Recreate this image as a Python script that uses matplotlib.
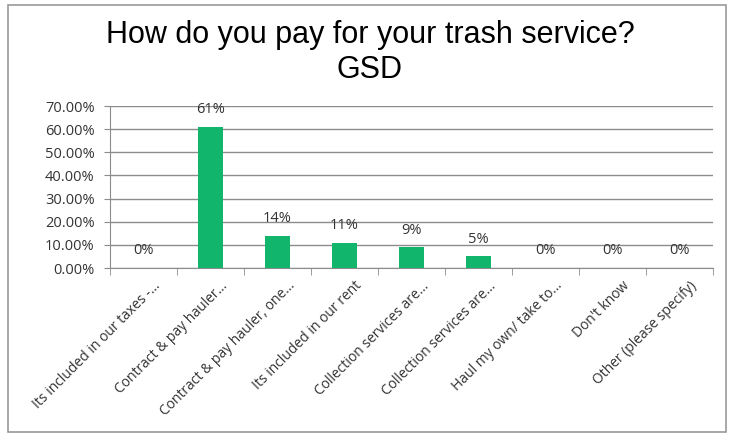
import matplotlib
matplotlib.use("Agg")
import matplotlib.pyplot as plt
from matplotlib.patches import Rectangle
from matplotlib.ticker import FuncFormatter, FixedLocator
import matplotlib.transforms as mtransforms

categories = [
    "Its included in our taxes -...",
    "Contract & pay hauler...",
    "Contract & pay hauler, one...",
    "Its included in our rent",
    "Collection services are...",
    "Collection services are...",
    "Haul my own/ take to...",
    "Don't know",
    "Other (please specify)",
]
values = [0.00, 0.61, 0.14, 0.11, 0.09, 0.05, 0.00, 0.00, 0.00]
labels = ["0%", "61%", "14%", "11%", "9%", "5%", "0%", "0%", "0%"]
yticks = [0.0, 0.1, 0.2, 0.3, 0.4, 0.5, 0.6, 0.7]

W, H = 733, 437
fig = plt.figure(figsize=(W / 100, H / 100), dpi=100)
fig.patch.set_facecolor("white")

SMALL_FONT = "Open Sans"
TXT = "#333333"

# outer chart border
fig.patches.append(Rectangle((8 / W, 5 / H), (726 - 8) / W, (432 - 5) / H,
                             transform=fig.transFigure, fill=False,
                             edgecolor="#9a9a9a", linewidth=1.2))

ax = fig.add_axes([110 / W, 1 - 268 / H, (713 - 110) / W, (268 - 106) / H])
x = list(range(len(categories)))
ax.bar(x, values, width=0.37, color="#12B56C", zorder=3)
ax.set_xlim(-0.5, len(categories) - 0.5)
ax.set_ylim(0, 0.7)

ax.set_yticks(yticks)
ax.yaxis.set_major_formatter(FuncFormatter(lambda v, p: f"{v*100:.2f}%"))
ax.grid(axis="y", color="#8c8c8c", linewidth=1.0, zorder=0)
ax.set_axisbelow(True)
for s in ["top", "right"]:
    ax.spines[s].set_visible(False)
ax.spines["left"].set_color("#8c8c8c")
ax.spines["bottom"].set_color("#8c8c8c")
ax.tick_params(axis="y", length=4, color="#8c8c8c", labelsize=10.5,
               labelcolor=TXT, pad=7)
for t in ax.get_yticklabels():
    t.set_fontfamily(SMALL_FONT)

# category ticks at boundaries
ax.xaxis.set_major_locator(FixedLocator(x))
ax.xaxis.set_minor_locator(FixedLocator([i - 0.5 for i in range(len(categories) + 1)]))
ax.tick_params(axis="x", which="major", length=0, pad=2)
ax.tick_params(axis="x", which="minor", length=5, color="#8c8c8c")
ax.set_xticklabels(categories, rotation=45, ha="right", va="center",
                   rotation_mode="anchor", fontsize=10, color=TXT,
                   family=SMALL_FONT)
offset = mtransforms.ScaledTranslation(15 / 100, -13 / 100, fig.dpi_scale_trans)
for t in ax.get_xticklabels():
    t.set_transform(t.get_transform() + offset)

# data labels
for xi, v, lab in zip(x, values, labels):
    ax.annotate(lab, (xi, v), xytext=(0, 17), textcoords="offset pixels",
                ha="center", va="center", fontsize=10.5, color=TXT,
                family=SMALL_FONT)

fig.text(370 / W, 1 - 43 / H, "How do you pay for your trash service?",
         ha="center", va="baseline", fontsize=22, family="Liberation Sans",
         color="black")
fig.text(370 / W, 1 - 78 / H, "GSD", ha="center", va="baseline",
         fontsize=22, family="Liberation Sans", color="black")

fig.savefig("out.png", dpi=100, facecolor="white")
